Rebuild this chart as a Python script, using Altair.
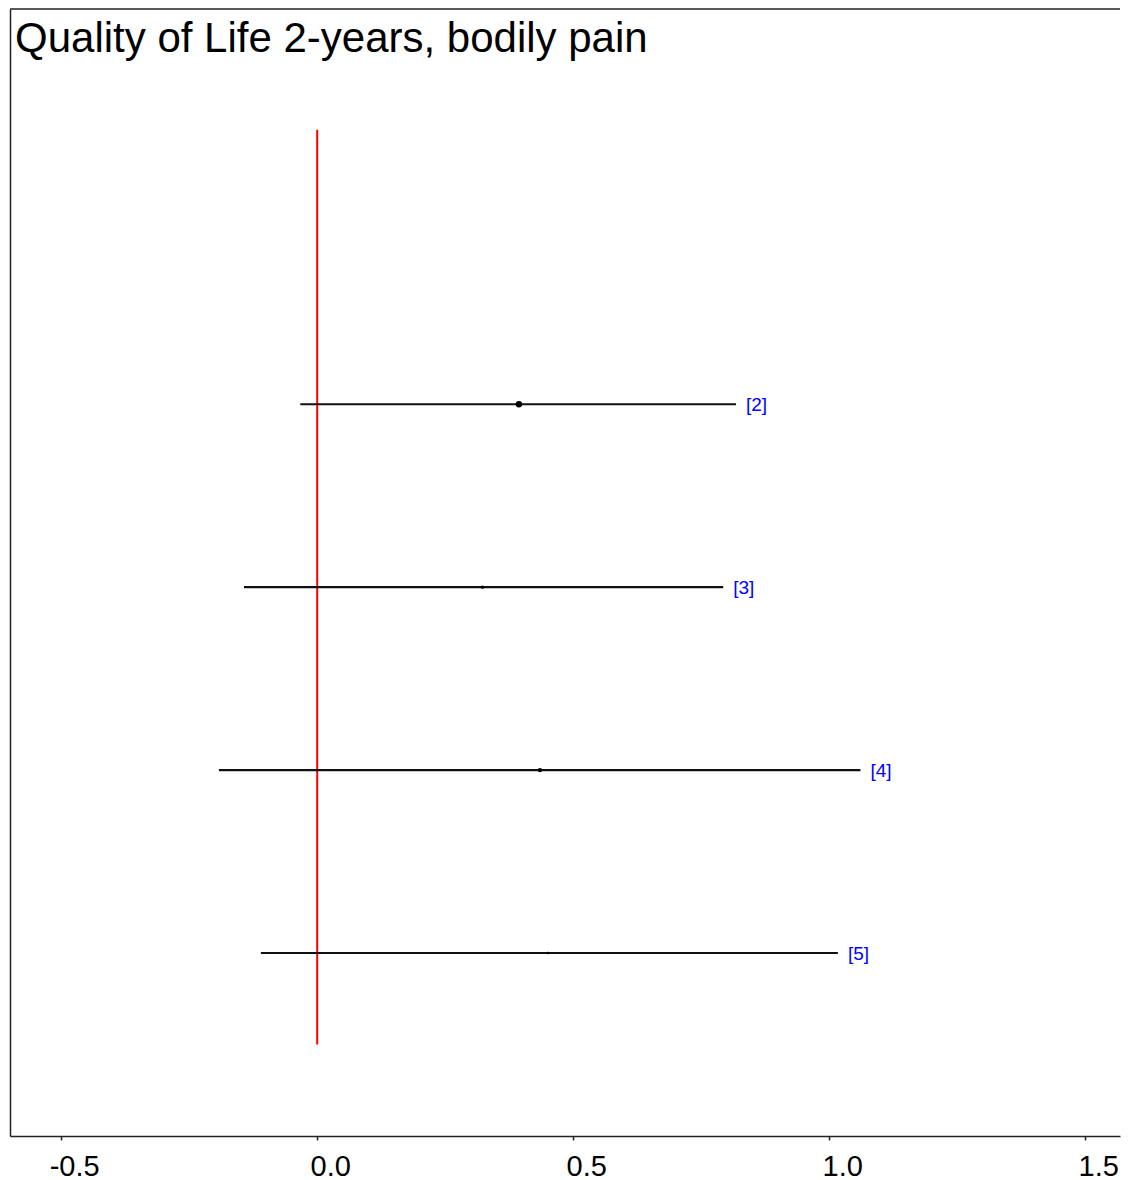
import altair as alt
import pandas as pd

# Data
studies = ["[2]", "[3]", "[4]", "[5]"]
rows = [2, 3, 4, 5]
estimate = [0.394, 0.323, 0.435, 0.451]
lower = [-0.033, -0.143, -0.192, -0.110]
upper = [0.818, 0.793, 1.061, 1.017]
weight = [0.75, 0.20, 0.35, 0.12]
x_ticks = [-0.5, 0.0, 0.5, 1.0, 1.5]
title_text = "Quality of Life 2-years, bodily pain"
ref_value = [0.0]
ref_span = [0.5, 5.5]

W, H = 1110, 1127
X_MIN, X_MAX = -0.6, -0.6 + W / 512.0
Y_MIN, Y_MAX = -0.16, 6.0

df = pd.DataFrame({"study": studies, "row": rows, "est": estimate,
                   "lo": lower, "hi": upper, "w": weight})
ref = pd.DataFrame({"x": ref_value, "y1": [ref_span[0]], "y2": [ref_span[1]]})

xscale = alt.Scale(domain=[X_MIN, X_MAX], nice=False, zero=False)
yscale = alt.Scale(domain=[Y_MIN, Y_MAX], nice=False, zero=False, reverse=True)

frame = dict(domain=True, domainColor="#222222", domainWidth=1.5, grid=False, title=None)

xaxis = alt.Axis(values=x_ticks,
                 labelExpr="datum.value < 0 ? '-' + format(-datum.value, '.1f') : format(datum.value, '.1f')",
                 ticks=True, tickColor="#222222", tickSize=4, tickWidth=1.5,
                 labelFont="Liberation Sans", labelFontSize=29, labelColor="black",
                 labelPadding=12, labelOffset=13, labelFlush=False, labelOverlap=False,
                 **frame)
yaxis = alt.Axis(labels=False, ticks=False, **frame)

base = alt.Chart(df)

ci = base.mark_rule(color="#111111", strokeWidth=2.1).encode(
    x=alt.X("lo:Q", scale=xscale, axis=xaxis),
    x2="hi:Q",
    y=alt.Y("row:Q", scale=yscale, axis=yaxis),
)

pts = base.mark_point(filled=True, shape="circle", color="black", opacity=1).encode(
    x=alt.X("est:Q", scale=xscale),
    y=alt.Y("row:Q", scale=yscale),
    size=alt.Size("w:Q", scale=alt.Scale(domain=[0, 1], range=[0, 55]), legend=None),
)

labels = base.mark_text(align="left", baseline="middle", dx=10, dy=1,
                        font="Liberation Sans", fontSize=19, color="#0000ff").encode(
    x=alt.X("hi:Q", scale=xscale),
    y=alt.Y("row:Q", scale=yscale),
    text="study:N",
)

refline = alt.Chart(ref).mark_rule(color="#ff0000", strokeWidth=2).encode(
    x=alt.X("x:Q", scale=xscale),
    y=alt.Y("y1:Q", scale=yscale),
    y2="y2:Q",
)

top_border = alt.Chart(ref).mark_rule(color="#222222", strokeWidth=1.5).encode(
    x=alt.datum(X_MIN, type="quantitative"),
    x2=alt.datum(X_MAX),
    y=alt.datum(Y_MIN, type="quantitative"),
)

title = alt.Chart(pd.DataFrame({"t": [title_text]})).mark_text(
    align="left", baseline="alphabetic", font="Liberation Sans", fontSize=42,
    color="black").encode(x=alt.value(5), y=alt.value(43), text="t:N")

chart = alt.layer(top_border, refline, ci, pts, labels, title).properties(
    width=W, height=H,
    padding={"left": 1, "top": 0, "right": 0, "bottom": 0},
).configure_view(stroke=None)

chart.save("out.html", embed_options={"renderer": "svg", "actions": False})
